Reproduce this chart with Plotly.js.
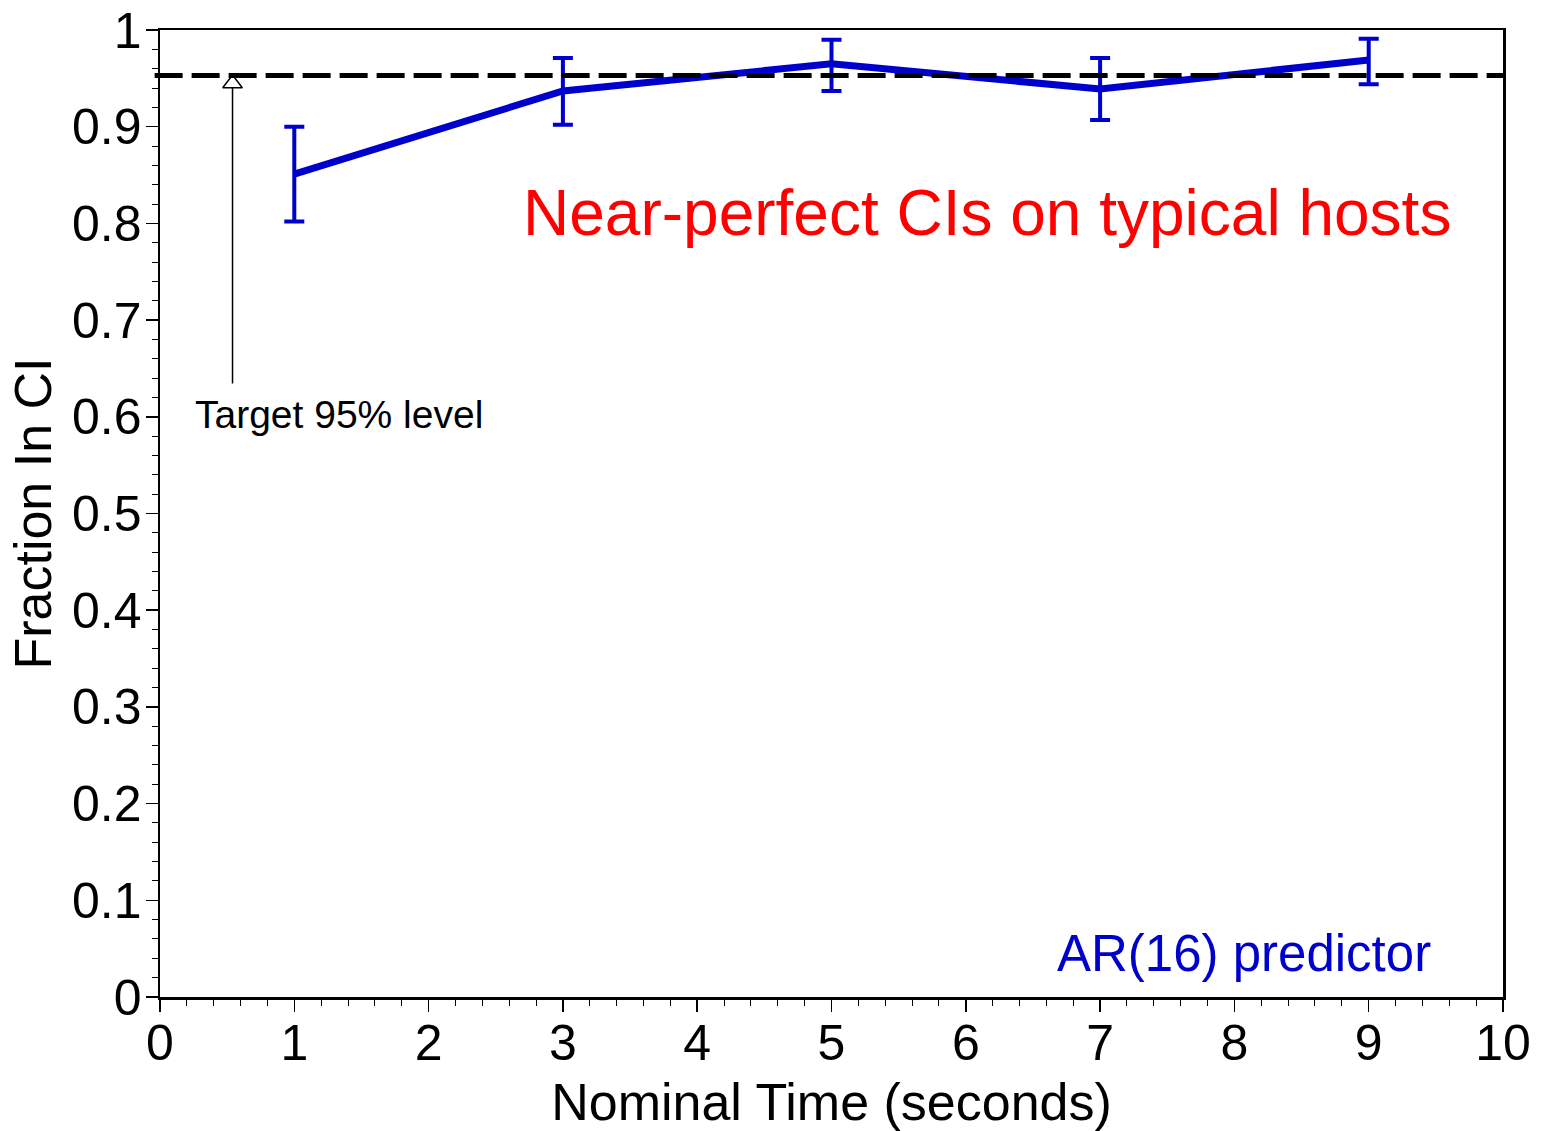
<!DOCTYPE html>
<html>
<head>
<meta charset="utf-8">
<script src="https://cdn.plot.ly/plotly-3.0.1.min.js"></script>
<style>html,body{margin:0;padding:0;background:#fff;}#chart{width:1541px;height:1131px;}</style>
</head>
<body>
<div id="chart"></div>
<script>
// ---- data ----
const times = [1, 3, 5, 7, 9];
const fractionInCI = [0.851, 0.937, 0.965, 0.939, 0.969];
const ciUpper = [0.900, 0.971, 0.990, 0.971, 0.991];
const ciLower = [0.802, 0.902, 0.937, 0.907, 0.944];
const targetLevel = 0.953;
const xTitle = 'Nominal Time (seconds)';
const yTitle = 'Fraction In CI';
const mainNote = 'Near-perfect CIs on typical hosts';
const seriesNote = 'AR(16) predictor';
const targetNote = 'Target 95% level';

// annotation anchor positions (data units)
const arrowX = 0.54, arrowBottom = 0.633, arrowHeadY = 0.9447, arrowShaftTop = 0.94;

const errPlus = fractionInCI.map((v, i) => ciUpper[i] - v);
const errMinus = fractionInCI.map((v, i) => v - ciLower[i]);

const FONT = 'Liberation Sans, Arial, sans-serif';
const BLUE = '#0000CC';

const traces = [
  {
    x: times, y: fractionInCI, type: 'scatter', mode: 'lines',
    line: {color: BLUE, width: 7},
    error_y: {type: 'data', symmetric: false, array: errPlus, arrayminus: errMinus,
              color: BLUE, thickness: 4, width: 10},
    showlegend: false, hoverinfo: 'skip'
  },
  {
    x: [arrowX], y: [arrowHeadY], type: 'scatter', mode: 'markers',
    marker: {symbol: 'triangle-up-open', size: 17, color: '#000', line: {width: 1.5, color: '#000'}},
    showlegend: false, hoverinfo: 'skip', cliponaxis: false
  }
];

const layout = {
  width: 1541, height: 1131,
  margin: {l: 160, r: 38, t: 30, b: 134},
  paper_bgcolor: '#fff', plot_bgcolor: '#fff',
  font: {family: FONT, color: '#000'},
  xaxis: {
    range: [0, 10], dtick: 1, tick0: 0,
    showgrid: false, zeroline: false,
    showline: true, linewidth: 2.5, linecolor: '#000', mirror: true,
    ticks: 'outside', ticklen: 12, tickwidth: 1.5, tickcolor: '#000',
    ticklabelstandoff: -12,
    minor: {dtick: 0.2, ticks: 'outside', ticklen: 6, tickwidth: 1, tickcolor: '#000', showgrid: false},
    tickfont: {family: FONT, size: 50, color: '#000'},
    title: {text: xTitle, font: {family: FONT, size: 52, color: '#000'}, standoff: 15}
  },
  yaxis: {
    range: [0, 1], dtick: 0.1, tick0: 0,
    showgrid: false, zeroline: false,
    showline: true, linewidth: 2.5, linecolor: '#000', mirror: true,
    ticks: 'outside', ticklen: 12, tickwidth: 1.5, tickcolor: '#000',
    ticklabelstandoff: -6,
    minor: {dtick: 0.02, ticks: 'outside', ticklen: 6, tickwidth: 1, tickcolor: '#000', showgrid: false},
    tickfont: {family: FONT, size: 50, color: '#000'},
    title: {text: yTitle, font: {family: FONT, size: 52, color: '#000'}, standoff: 4}
  },
  shapes: [
    {type: 'line', xref: 'paper', x0: -0.004, x1: 1, yref: 'y', y0: targetLevel, y1: targetLevel,
     line: {color: '#000', width: 5, dash: '28px,9px'}}
  ],
  annotations: [
    {x: 6.16, y: 0.811, xref: 'x', yref: 'y', text: mainNote, showarrow: false,
     xanchor: 'center', yanchor: 'middle', font: {family: FONT, size: 64, color: '#FF0000'}},
    {x: 9.48, y: 0.045, xref: 'x', yref: 'y', text: seriesNote, showarrow: false,
     xanchor: 'right', yanchor: 'middle', font: {family: FONT, size: 51, color: BLUE}},
    {x: 0.245, y: 0.602, xref: 'x', yref: 'y', text: targetNote, showarrow: false,
     xanchor: 'left', yanchor: 'middle', font: {family: FONT, size: 39, color: '#000'}},
    {x: arrowX, y: arrowShaftTop, xref: 'x', yref: 'y', ax: arrowX, ay: arrowBottom, axref: 'x', ayref: 'y',
     text: '', showarrow: true, arrowhead: 0, arrowwidth: 1.5, arrowcolor: '#000', standoff: 0, startstandoff: 0}
  ]
};

Plotly.newPlot('chart', traces, layout, {displayModeBar: false, staticPlot: true});
</script>
</body>
</html>
